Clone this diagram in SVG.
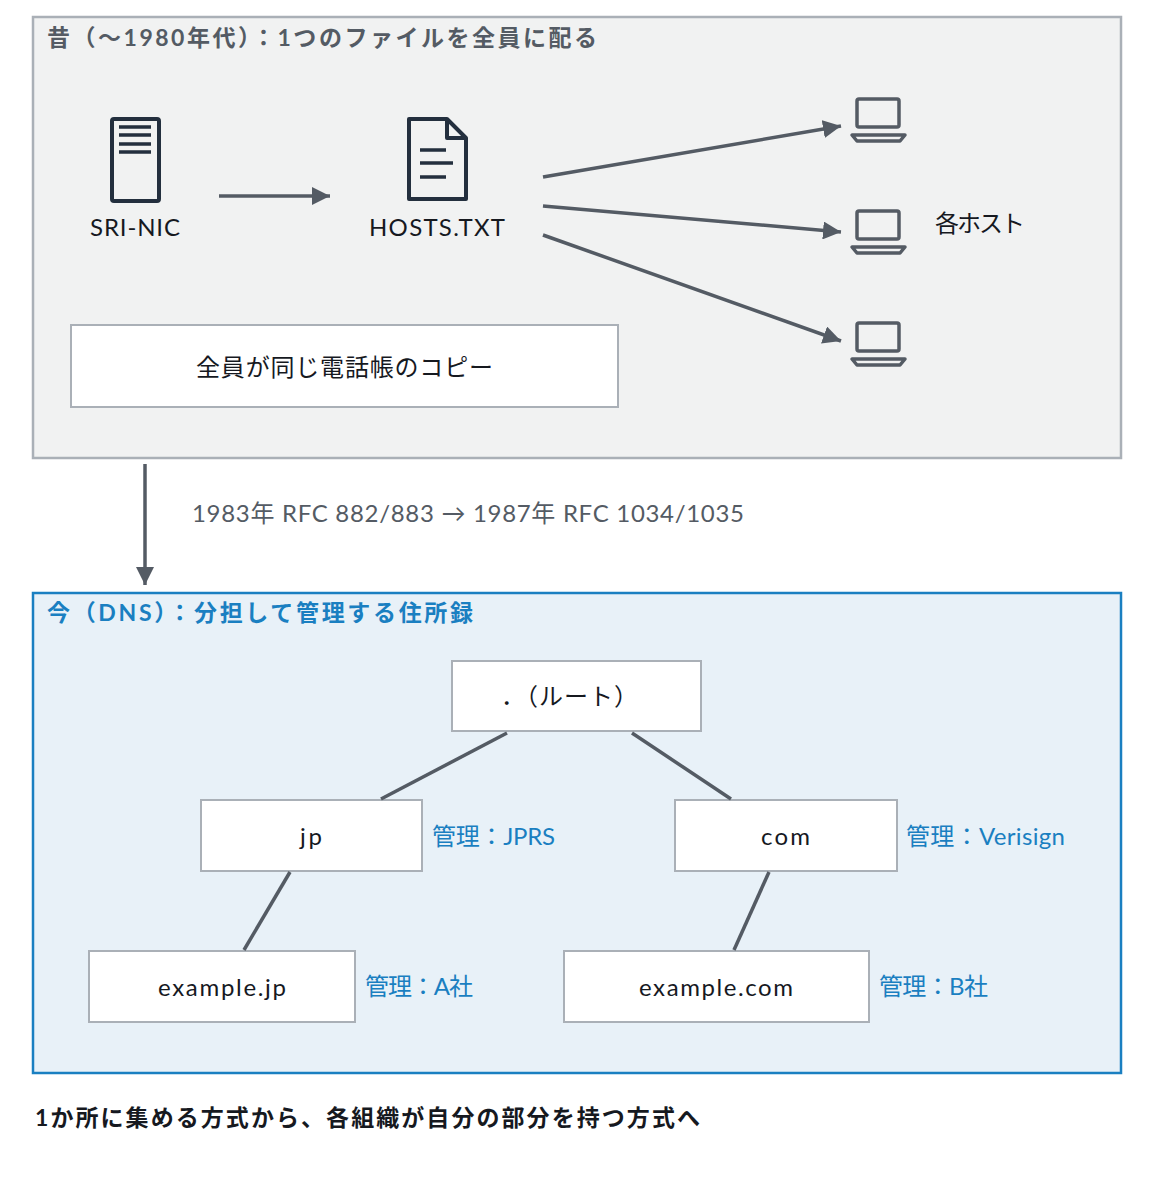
<svg xmlns="http://www.w3.org/2000/svg" width="1153" height="1182" viewBox="0 0 1153 1182">
<defs>
<marker id="a2" viewBox="0 0 10 10" markerWidth="18" markerHeight="18" refX="10" refY="5" orient="auto" markerUnits="userSpaceOnUse"><path d="M0,0 L10,5 L0,10 z" fill="#545b64"/></marker>
<style>
text{font-family:Lato,"Noto Sans CJK JP",sans-serif;font-size:24px}
.t{fill:#16191f}
.g{fill:#16191f;font-weight:bold;font-size:23px}
.b{fill:#1a7fc1}
.box{fill:#fff;stroke:#aab0b7;stroke-width:2}
.ic{fill:none;stroke:#232f3e;stroke-width:4;stroke-linejoin:round}
.lp{fill:none;stroke:#545b64;stroke-width:3.5;stroke-linejoin:round}
.c{stroke:#545b64;stroke-width:3.5;fill:none}
</style>
</defs>
<rect width="1153" height="1182" fill="#fff"/>
<g id="old">
<rect x="33" y="17" width="1088" height="441" fill="#f1f2f2" stroke="#aab0b7" stroke-width="2.5"/>
<text x="47" y="46" class="g" style="fill:#545b64" textLength="550" lengthAdjust="spacing">昔（〜1980年代）：1つのファイルを全員に配る</text>
</g>
<g id="srinic">
<rect x="112" y="119" width="47" height="82" rx="2" class="ic"/>
<path d="M119,127H151M119,135H151M119,144H151M119,152H151" stroke="#232f3e" stroke-width="3.5"/>
<text x="90" y="236" class="t" textLength="90" lengthAdjust="spacing">SRI-NIC</text>
</g>
<g id="hosts">
<path d="M409,119H447L466,138V199H409Z" class="ic"/>
<path d="M447,119V138H466" class="ic"/>
<path d="M420,150H446M420,163H453M420,177H446" stroke="#232f3e" stroke-width="3.5"/>
<text x="369" y="236" class="t" textLength="136" lengthAdjust="spacing">HOSTS.TXT</text>
</g>
<g id="hostsgrp">
<g id="h1"><rect x="857" y="99" width="42" height="28" rx="2" class="lp"/><path d="M852,135H905L900,141H857Z" class="lp"/></g>
<g id="h2"><rect x="857" y="211" width="42" height="28" rx="2" class="lp"/><path d="M852,247H905L900,253H857Z" class="lp"/></g>
<g id="h3"><rect x="857" y="323" width="42" height="28" rx="2" class="lp"/><path d="M852,359H905L900,365H857Z" class="lp"/></g>
<text x="935" y="232" class="t" textLength="90" lengthAdjust="spacing">各ホスト</text>
</g>
<g id="note">
<rect x="71" y="325" width="547" height="82" class="box"/>
<text x="196" y="376" class="t" textLength="297" lengthAdjust="spacing">全員が同じ電話帳のコピー</text>
</g>
<g id="new">
<rect x="33" y="593" width="1088" height="480" fill="#e8f1f8" stroke="#1a7fc1" stroke-width="2.5"/>
<text x="47" y="621" class="g" style="fill:#1a7fc1" textLength="426" lengthAdjust="spacing">今（DNS）：分担して管理する住所録</text>
</g>
<g id="root"><rect x="452" y="661" width="249" height="70" class="box"/><text x="501" y="705" class="t" textLength="137" lengthAdjust="spacing">．（ルート）</text></g>
<g id="jp"><rect x="201" y="800" width="221" height="71" class="box"/><text x="300" y="845" class="t" textLength="22" lengthAdjust="spacing">jp</text><text x="432" y="845" class="b" textLength="123" lengthAdjust="spacing">管理：JPRS</text></g>
<g id="com"><rect x="675" y="800" width="222" height="71" class="box"/><text x="761" y="845" class="t" textLength="49" lengthAdjust="spacing">com</text><text x="906" y="845" class="b" textLength="159" lengthAdjust="spacing">管理：Verisign</text></g>
<g id="exjp"><rect x="89" y="951" width="266" height="71" class="box"/><text x="158" y="996" class="t" textLength="128" lengthAdjust="spacing">example.jp</text><text x="365" y="995" class="b" textLength="108" lengthAdjust="spacing">管理：A社</text></g>
<g id="excom"><rect x="564" y="951" width="305" height="71" class="box"/><text x="639" y="996" class="t" textLength="154" lengthAdjust="spacing">example.com</text><text x="879" y="995" class="b" textLength="109" lengthAdjust="spacing">管理：B社</text></g>
<g id="connectors">
<line x1="219" y1="196" x2="330" y2="196" class="c" marker-end="url(#a2)"/>
<line x1="543" y1="177" x2="841" y2="126" class="c" marker-end="url(#a2)"/>
<line x1="543" y1="206" x2="841" y2="232" class="c" marker-end="url(#a2)"/>
<line x1="543" y1="235" x2="841" y2="341" class="c" marker-end="url(#a2)"/>
<line x1="145" y1="464" x2="145" y2="585" class="c" marker-end="url(#a2)"/>
<line x1="507" y1="733" x2="381" y2="799" class="c"/>
<line x1="632" y1="733" x2="731" y2="799" class="c"/>
<line x1="290" y1="872" x2="244" y2="950" class="c"/>
<line x1="769" y1="872" x2="734" y2="950" class="c"/>
</g>
<text x="192" y="522" style="fill:#545b64" textLength="552" lengthAdjust="spacing">1983年 RFC 882/883 → 1987年 RFC 1034/1035</text>
<text x="35" y="1126" class="g" textLength="665" lengthAdjust="spacing">1か所に集める方式から、各組織が自分の部分を持つ方式へ</text>
</svg>
